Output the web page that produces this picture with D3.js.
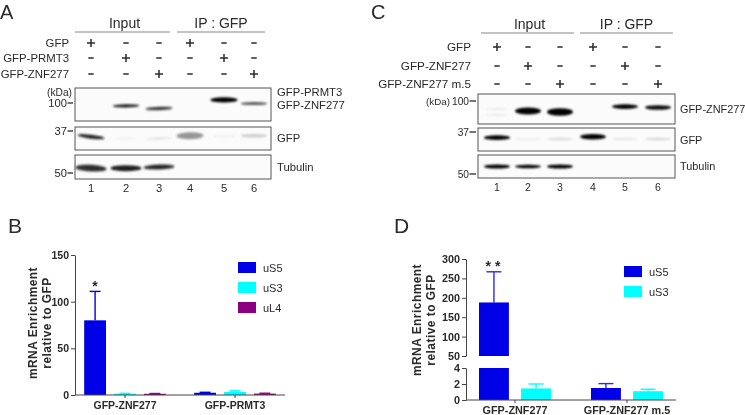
<!DOCTYPE html>
<html><head><meta charset="utf-8">
<script src="https://cdn.jsdelivr.net/npm/d3@7/dist/d3.min.js"></script>
<style>
html,body{margin:0;padding:0;background:#fff}
text{font-family:"Liberation Sans",Arial,sans-serif;fill:#2a2a2a}
</style></head><body><svg id="c" width="745" height="415"></svg>
<script>
// ---- data ----
const lanes=[1,2,3,4,5,6];
const groupLabels=["Input","IP : GFP"];
const aRows=["GFP","GFP-PRMT3","GFP-ZNF277"];
const aPlus=[[1,4],[2,5],[3,6]];
const cRows=["GFP","GFP-ZNF277","GFP-ZNF277 m.5"];
const cPlus=[[1,4],[2,5],[3,6]];
// blot bands: lane, mobility (0 top..1 bottom of membrane), density, spread, slant
const aTopLane=[2,3,5,6], aTopMob=[.54,.62,.36,.47], aTopDensity=[.9,.78,1,.65], aTopSpread=[.8,.85,1.3,.8], aTopSlant=[-1,-2,0,0];
const aGfpLane=[1,2,3,4,5,6], aGfpMob=[.42,.5,.5,.38,.4,.38], aGfpDensity=[.88,.04,.1,.4,.05,.18], aGfpSpread=[1,.5,.6,1.7,.5,.9], aGfpSlant=[7,0,-2,-1,0,0];
const aTubLane=[1,2,3], aTubMob=[.55,.55,.5], aTubDensity=[.82,.88,.85], aTubSpread=[1.7,1.5,1.3], aTubSlant=[3,0,-2];
const cTopLane=[1,1,2,3,5,6], cTopMob=[.5,.7,.57,.6,.42,.45], cTopDensity=[.07,.07,1,1,1,.95], cTopSpread=[.5,.5,1.6,1.7,1.1,1.05], cTopSlant=[0,0,0,0,0,0];
const cGfpLane=[1,2,3,4,5,6], cGfpMob=[.42,.5,.48,.38,.48,.48], cGfpDensity=[1,.05,.12,1,.08,.14], cGfpSpread=[1.1,.6,.6,1.25,.6,.6], cGfpSlant=[0,0,0,0,0,0];
const cTubLane=[1,2,3], cTubMob=[.5,.5,.5], cTubDensity=[1,1,1], cTubSpread=[.95,.85,.95], cTubSlant=[0,0,0];
const aMarkers=["100","37","50"];
const cMarkers=["100","37","50"];
// bar charts
const bGroups=["GFP-ZNF277","GFP-PRMT3"];
const bSeries=["uS5","uS3","uL4"];
const bColors=["#0000e6","#00ffff","#8b0080"];
const bValues=[[80,1.4,1.3],[2.4,3.2,1.5]];
const bErrors=[[31,.4,.3],[.5,1.3,.4]];
const bTicks=[0,50,100,150];
const dGroups=["GFP-ZNF277","GFP-ZNF277 m.5"];
const dSeries=["uS5","uS3"];
const dColors=["#0000e6","#00ffff"];
const dValues=[[188,1.45],[1.5,1.1]];
const dErrors=[[79,.55],[.55,.25]];
const dTicksLow=[0,2,4];
const dTicksHigh=[50,100,150,200,250,300];

// ---- drawing ----
const svg=d3.select("#c");
const defs=svg.append("defs");
[["b1",.9],["b2",1.3],["t",.35]].forEach(([id,s])=>defs.append("filter").attr("id",id)
  .attr("x","-30%").attr("y","-60%").attr("width","160%").attr("height","220%")
  .append("feGaussianBlur").attr("stdDeviation",s));
const ink="#2a2a2a";
const root=svg.append("g");
const txt=(g,x,y,s,size,anchor="start",weight="normal")=>g.append("text").attr("x",x).attr("y",y).attr("font-size",size).attr("text-anchor",anchor).attr("font-weight",weight).attr("filter","url(#t)").text(s);

function blotPanel(o){
  const g=root.append("g");
  const lx=d3.scaleOrdinal(lanes,o.laneX);
  groupLabels.forEach((s,i)=>{
    const [a,b]=o.group[i];
    g.append("line").attr("x1",a).attr("x2",b).attr("y1",o.lineY).attr("y2",o.lineY).attr("stroke","#888").attr("stroke-width",1);
    txt(g,(a+b)/2+(i?0:2),o.lineY-4.5,s,o.headSize,"middle");
  });
  o.rows.forEach((r,i)=>{
    txt(g,o.rowRight,o.rowY[i]+4,r,o.rowSize,"end");
    lanes.forEach(l=>{
      const plus=o.plus[i].includes(l), x=lx(l), y=o.rowY[i];
      g.append("line").attr("x1",x-(plus?4:2.7)).attr("x2",x+(plus?4:2.7)).attr("y1",y).attr("y2",y).attr("stroke",ink).attr("stroke-width",1.5);
      if(plus) g.append("line").attr("x1",x).attr("x2",x).attr("y1",y-4).attr("y2",y+4).attr("stroke",ink).attr("stroke-width",1.5);
    });
  });
  o.blots.forEach(b=>{
    const y=d3.scaleLinear([0,1],[b.y0,b.y1]);
    const m=g.append("g");
    m.append("rect").attr("x",o.boxX[0]).attr("y",b.y0).attr("width",o.boxX[1]-o.boxX[0]).attr("height",b.y1-b.y0).attr("fill","#fbfbfb");
    b.lane.forEach((l,i)=>{
      const cx=lx(l), cy=y(b.mob[i]);
      const rx=b.w||o.bandW, ht=o.bandH*b.spread[i];
      m.append("ellipse").attr("cx",cx).attr("cy",cy).attr("rx",b.spread[i]<.6?rx*.8:rx).attr("ry",ht)
       .attr("fill","#000").attr("opacity",b.den[i])
       .attr("transform",`rotate(${b.slant[i]} ${cx} ${cy})`)
       .attr("filter",b.spread[i]>1.4?"url(#b2)":"url(#b1)");
    });
    m.append("rect").attr("x",o.boxX[0]).attr("y",b.y0).attr("width",o.boxX[1]-o.boxX[0]).attr("height",b.y1-b.y0).attr("fill","none").attr("stroke","#555").attr("stroke-width",1);
    if(b.label) txt(g,o.bandLabelX,b.labelY,b.label,o.labelSize);
  });
  o.markers.forEach((s,i)=>{
    const y=o.markerY[i];
    txt(g,o.markerRight,y+4,s,o.markerSize,"end");
    g.append("line").attr("x1",o.markerRight+.5).attr("x2",o.boxX[0]-2).attr("y1",y).attr("y2",y).attr("stroke",ink).attr("stroke-width",1.3);
  });
  lanes.forEach(l=>txt(g,lx(l),o.numY,l,o.numSize,"middle"));
}

blotPanel({laneX:[91,126,159,190,224,254],group:[[75,170],[177,265]],lineY:32,headSize:14,rows:aRows,plus:aPlus,rowRight:69,rowY:[43,58,74],rowSize:11.4,
  boxX:[75,271],bandW:13.5,bandH:2,labelSize:11.3,bandLabelX:277,numSize:11.2,numY:192,markers:aMarkers,markerSize:11.2,markerRight:67,markerY:[103,131,173],
  blots:[
   {y0:88,y1:121,lane:aTopLane,mob:aTopMob,den:aTopDensity,spread:aTopSpread,slant:aTopSlant},
   {y0:127,y1:150,lane:aGfpLane,mob:aGfpMob,den:aGfpDensity,spread:aGfpSpread,slant:aGfpSlant,label:"GFP",labelY:142},
   {y0:155,y1:179,w:15.5,lane:aTubLane,mob:aTubMob,den:aTubDensity,spread:aTubSpread,slant:aTubSlant,label:"Tubulin",labelY:171}]});
const ga=root.append("g");
txt(ga,277,96,"GFP-PRMT3",11.3);txt(ga,277,109,"GFP-ZNF277",11.3);
txt(ga,72,96,"(kDa)",10.2,"end");

blotPanel({laneX:[497,528,560,593,625,658],group:[[481,574],[580,673]],lineY:33,headSize:14,rows:cRows,plus:cPlus,rowRight:471,rowY:[47,66,84],rowSize:11.7,
  boxX:[478,675],bandW:13,bandH:2.2,labelSize:10.9,bandLabelX:680,numSize:10.5,numY:191,markers:cMarkers,markerSize:10.2,markerRight:469,markerY:[101,132,174],
  blots:[
   {y0:94,y1:124,lane:cTopLane,mob:cTopMob,den:cTopDensity,spread:cTopSpread,slant:cTopSlant,label:"GFP-ZNF277",labelY:113},
   {y0:128,y1:151,lane:cGfpLane,mob:cGfpMob,den:cGfpDensity,spread:cGfpSpread,slant:cGfpSlant,label:"GFP",labelY:144},
   {y0:155,y1:178,lane:cTubLane,mob:cTubMob,den:cTubDensity,spread:cTubSpread,slant:cTubSlant,label:"Tubulin",labelY:170}]});
const gc=root.append("g");
txt(gc,450,105,"(kDa)",9.8,"end");

// panel letters
[["A",0,18.5,20],["C",371,18.5,20],["B",8,233,21],["D",394,233,21]].forEach(d=>txt(root,d[1],d[2],d[0],d[3]));

function axisStyle(sel,size){
  sel.selectAll(".domain").attr("stroke","#444").attr("stroke-width",1);
  sel.selectAll(".tick line").attr("stroke","#444").attr("stroke-width",1);
  sel.selectAll("text").attr("font-family","Liberation Sans").attr("font-weight","bold").attr("font-size",size||10.5).attr("fill","#222").attr("filter","url(#t)");
}
function errBar(g,x,y0,y1,color,w){
  g.append("line").attr("x1",x).attr("x2",x).attr("y1",y0).attr("y2",y1).attr("stroke",color).attr("stroke-width",1.4);
  g.append("line").attr("x1",x-w/4).attr("x2",x+w/4).attr("y1",y1).attr("y2",y1).attr("stroke",color).attr("stroke-width",1.4);
}
function legend(g,x,y0,names,colors){
  names.forEach((n,i)=>{
    const y=y0+i*20;
    g.append("rect").attr("x",x).attr("y",y).attr("width",18).attr("height",11).attr("fill",colors[i]);
    txt(g,x+25,y+9.5,n,11);
  });
}
function yTitle(g,cx,cy,s){
  g.append("text").attr("transform",`translate(${cx},${cy}) rotate(-90)`).attr("text-anchor","middle").attr("font-size",11.9).attr("font-weight","bold").attr("letter-spacing",.5).attr("filter","url(#t)").text(s);
}

// panel B
{
  const g=root.append("g");
  const y=d3.scaleLinear([0,150],[395,255]);
  const x0=d3.scaleBand(bGroups,[70,290]);
  const x1=d3.scaleBand(bSeries,[-45,45]).paddingInner(.27).paddingOuter(.14);
  bGroups.forEach((gn,i)=>bSeries.forEach((s,j)=>{
    const xx=x0(gn)+x0.bandwidth()/2+x1(s), w=x1.bandwidth(), v=bValues[i][j];
    errBar(g,xx+w/2,y(v),y(v+bErrors[i][j]),bColors[j],w);
    g.append("rect").attr("x",xx).attr("y",y(v)).attr("width",w).attr("height",y(0)-y(v)).attr("fill",bColors[j]);
  }));
  axisStyle(g.append("g").attr("transform","translate(75,0)").call(d3.axisLeft(y).tickValues(bTicks).tickFormat(d3.format("d")).tickSize(4).tickPadding(2).tickSizeOuter(0)));
  g.append("line").attr("x1",75).attr("x2",285).attr("y1",395).attr("y2",395).attr("stroke","#444");
  const xa=g.append("g").attr("transform","translate(0,395)").call(d3.axisBottom(x0).tickSize(3).tickPadding(4).tickSizeOuter(0));
  axisStyle(xa);xa.select(".domain").remove();
  txt(g,95,291,"*",14,"middle","bold");
  legend(g,238,262,bSeries,bColors);
  yTitle(g,37,323,"mRNA Enrichment");yTitle(g,51,323,"relative to GFP");
}

// panel D
{
  const g=root.append("g");
  const low=d3.scaleLinear([0,4],[400,368]);
  const high=d3.scaleLinear([50,300],[356,259]);
  const x0=d3.scaleBand(dGroups,[459,683]);
  const x1=d3.scaleBand(dSeries,[-36,36]).paddingInner(.29).paddingOuter(0);
  dGroups.forEach((gn,i)=>dSeries.forEach((s,j)=>{
    const xx=x0(gn)+x0.bandwidth()/2+x1(s), w=x1.bandwidth(), v=dValues[i][j], e=v+dErrors[i][j];
    const py=d=>d>4?high(Math.max(d,50)):low(d);
    errBar(g,xx+w/2,py(v),py(e),j?dColors[1]:"#2a2ae6",w);
    if(v>4){
      g.append("rect").attr("x",xx).attr("y",high(v)).attr("width",w).attr("height",high(50)-high(v)).attr("fill",dColors[j]);
      g.append("rect").attr("x",xx).attr("y",low(4)).attr("width",w).attr("height",low(0)-low(4)).attr("fill",dColors[j]);
    } else g.append("rect").attr("x",xx).attr("y",low(v)).attr("width",w).attr("height",low(0)-low(v)).attr("fill",dColors[j]);
  }));
  const fmt=d3.format("d");
  axisStyle(g.append("g").attr("transform","translate(466,0)").call(d3.axisLeft(high).tickValues(dTicksHigh).tickFormat(fmt).tickSize(4).tickPadding(2).tickSizeOuter(0)),10.8);
  axisStyle(g.append("g").attr("transform","translate(466,0)").call(d3.axisLeft(low).tickValues(dTicksLow).tickFormat(fmt).tickSize(4).tickPadding(2).tickSizeOuter(0)),10.8);
  g.append("line").attr("x1",466).attr("x2",676).attr("y1",400).attr("y2",400).attr("stroke","#444");
  const xa=g.append("g").attr("transform","translate(0,400)").call(d3.axisBottom(x0).tickSize(3).tickPadding(3).tickSizeOuter(0));
  axisStyle(xa,10.8);xa.select(".domain").remove();
  txt(g,493,271,"* *",14,"middle","bold");
  legend(g,624,266,dSeries,dColors);
  yTitle(g,421,320,"mRNA Enrichment");yTitle(g,435,320,"relative to GFP");
}
</script></body></html>
